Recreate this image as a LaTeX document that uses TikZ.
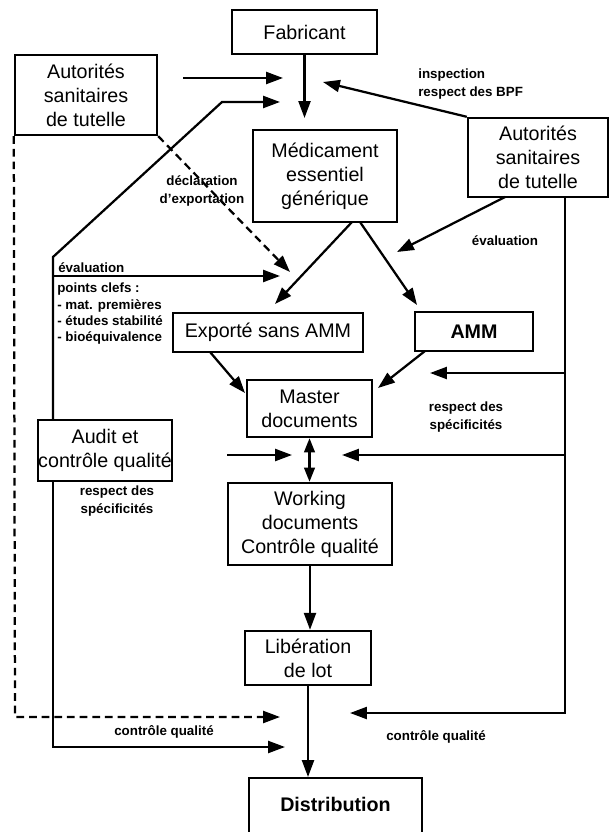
\documentclass[tikz,border=0pt]{standalone}
\usepackage{fontspec}
\setmainfont{Liberation Sans}
\usepackage{tikz}
\usetikzlibrary{positioning, arrows.meta, calc}

\begin{document}
\begin{tikzpicture}[x=0.025cm, y=-0.025cm, box/.style={draw, line width=1.7pt, align=center, inner sep=0pt, font=\fontsize{14}{17}\selectfont}, lbl/.style={font=\fontsize{9.5}{12.8}\selectfont\bfseries, align=center, inner sep=0pt}, arr/.style={line width=1.6pt, -{Triangle[length=12pt, width=8.5pt]}}, arrs/.style={line width=1.6pt, {Triangle[length=10pt, width=7.5pt]}-{Triangle[length=10pt, width=7.5pt]}}, dsh/.style={dash pattern=on 5.5pt off 3.5pt}]
\useasboundingbox (0,0) rectangle (610,832);
\clip (0,0) rectangle (610,832);
% boxes
\node[box, minimum width=3.625cm, minimum height=1.1cm] (fab) at (304.5,32) {Fabricant};
\node[box, minimum width=3.55cm, minimum height=2.0cm] (autL) at (86,95) {Autorités\\sanitaires\\de tutelle};
\node[box, minimum width=3.5cm, minimum height=1.975cm] (autR) at (538,157.5) {Autorités\\sanitaires\\de tutelle};
\node[box, minimum width=3.6cm, minimum height=2.3cm] (med) at (325,176) {Médicament\\essentiel\\générique};
\node[box, minimum width=4.75cm, minimum height=0.975cm] (exp) at (268,332.5) {Exporté sans AMM};
\node[box, minimum width=2.95cm, minimum height=0.975cm, font=\fontsize{14}{17}\selectfont\bfseries] (amm) at (474,331.5) {AMM};
\node[box, minimum width=3.125cm, minimum height=1.425cm] (mas) at (309.5,408.5) {Master\\documents};
\node[box, minimum width=3.05cm, minimum height=1.525cm] (aud) at (105,450.5) {Audit et\\contrôle qualité};
\node[box, minimum width=4.1cm, minimum height=2.05cm] (wrk) at (310,524) {Working\\documents\\Contrôle qualité};
\node[box, minimum width=3.15cm, minimum height=1.35cm] (lib) at (308,658) {Libération\\de lot};
\node[box, minimum width=4.325cm, text height=0.825cm, text depth=0.875cm, anchor=north, font=\fontsize{14}{17}\selectfont\bfseries] (dis) at (335.5,777) {Distribution};
% free ends
\coordinate (fabin) at (304.5,118); \coordinate (autLo) at (183,78); \coordinate (autLi) at (283,78);
\coordinate (audN) at (53,420); \coordinate (audS) at (53,481); \coordinate (lk1) at (53,257); \coordinate (lk2) at (222,102); \coordinate (lkin) at (280,102);
\coordinate (evs) at (53,276); \coordinate (evin) at (280,276); \coordinate (lk3) at (53,747); \coordinate (cqin) at (285,747);
\coordinate (audo) at (227,455); \coordinate (audi) at (292,455);
\coordinate (dk1) at (15,717); \coordinate (dkin) at (280,717); \coordinate (dxin) at (290,272);
\coordinate (meds1) at (352,222); \coordinate (meds2) at (360,222); \coordinate (expin) at (275,304); \coordinate (ammin) at (417,305);
\coordinate (insp) at (323,82); \coordinate (aro) at (505,197); \coordinate (arin) at (397,252);
\coordinate (rtop) at (565,197); \coordinate (rbot) at (565,713); \coordinate (rcq) at (350,713);
\coordinate (rr1) at (565,373); \coordinate (rr1in) at (430,373); \coordinate (rr2) at (565,455); \coordinate (rr2in) at (342,455);
\coordinate (ammo) at (425,351); \coordinate (masR) at (378,388); \coordinate (expo) at (210,352); \coordinate (masL) at (245,393);
% connectors
\draw[arr] (fab) -- (fabin);
\draw[arr] (autLo) -- (autLi);
\draw[arr] (audN) -- (lk1) -- (lk2) -- (lkin);
\draw[arr] (evs) -- (evin);
\draw[arr] (audS) -- (lk3) -- (cqin);
\draw[arr] (audo) -- (audi);
\draw[arr, dsh] (autL.south west) -- (dk1) -- (dkin);
\draw[arr, dsh] (autL.south east) -- (dxin);
\draw[arr] (meds1) -- (expin);
\draw[arr] (meds2) -- (ammin);
\draw[arr] (autR.north west) -- (insp);
\draw[arr] (aro) -- (arin);
\draw[arr] (rtop) -- (rbot) -- (rcq);
\draw[arr] (rr1) -- (rr1in);
\draw[arr] (rr2) -- (rr2in);
\draw[arr] (ammo) -- (masR);
\draw[arr] (expo) -- (masL);
\draw[arrs] (mas.south) -- (mas.south |- wrk.north);
\draw[arr] (wrk.south) -- (wrk.south |- lib.north);
\draw[arr] (lib.south) -- (lib.south |- dis.north);
% labels
\node[lbl, align=left, anchor=west] (inspl) at (418,84) {inspection\\respect des BPF};
\node[lbl] (evR) at (505,241) {évaluation};
\node[lbl] (decl) at (202,191) {déclaration\\d'exportation};
\node[lbl, anchor=base west] (evL) at (58,273) {évaluation};
\node[lbl, align=left, anchor=north west, font=\fontsize{9.5}{11.5}\selectfont\bfseries] (keys) at (57,283) {points clefs :\\- mat. premières\\- études stabilité\\- bioéquivalence};
\node[lbl] (respL) at (117,501) {respect des\\spécificités};
\node[lbl] (respR) at (466,417) {respect des\\spécificités};
\node[lbl] (cqL) at (164,732) {contrôle qualité};
\node[lbl] (cqR) at (436,737) {contrôle qualité};
\end{tikzpicture}
\end{document}
